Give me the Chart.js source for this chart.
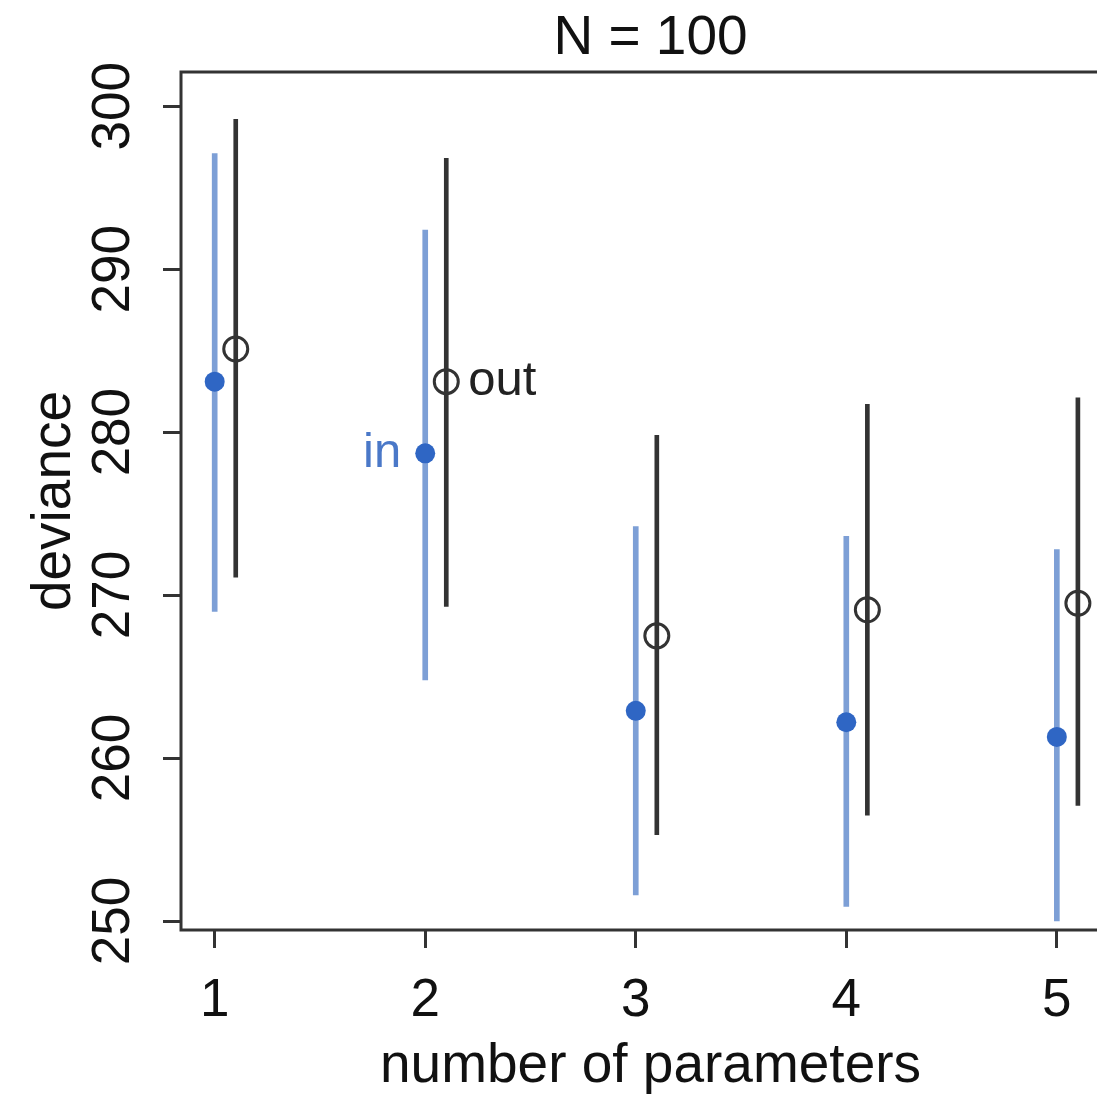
<!DOCTYPE html>
<html>
<head>
<meta charset="utf-8">
<script src="https://cdn.jsdelivr.net/npm/chart.js@4.4.1/dist/chart.umd.min.js"></script>
<style>
  html, body { margin: 0; overflow: hidden; background: #fff; }
  #wrap { width: 1140px; height: 1103px; }
</style>
</head>
<body>
<div id="wrap"><canvas id="devianceChart"></canvas></div>
<script>
// number of parameters (x) and deviance summaries
const params = [1, 2, 3, 4, 5];
const inMean = [283.1, 278.7, 262.9, 262.2, 261.3];
const inLow = [269.0, 264.8, 251.6, 250.9, 250.0];
const inHigh = [297.1, 292.4, 274.2, 273.6, 272.8];
const outMean = [285.1, 283.1, 267.5, 269.1, 269.5];
const outLow = [271.1, 269.3, 255.3, 256.5, 257.1];
const outHigh = [299.2, 296.8, 279.8, 281.7, 282.1];
const outShift = 0.1; // out-of-sample drawn a bit to the right
const xTicks = [1, 2, 3, 4, 5];
const yTicks = [250, 260, 270, 280, 290, 300];

const blueBar = '#7d9fd6';
const bluePoint = '#2f66c4';
const dark = '#333333';

Chart.defaults.font.family = '"Liberation Sans", Arial, sans-serif';
Chart.defaults.color = '#222';

// box around the plot region + the "in" / "out" text next to k = 2
const boxAndLabels = {
    id: 'boxAndLabels',
    beforeDatasetsDraw(chart) {
        const a = chart.chartArea;
        const ctx = chart.ctx;
        ctx.save();
        ctx.strokeStyle = dark;
        ctx.lineWidth = 3;
        ctx.strokeRect(a.left, a.top, a.right - a.left, a.bottom - a.top);
        ctx.restore();
    },
    afterDatasetsDraw(chart) {
        const x = chart.scales.x, y = chart.scales.y;
        const ctx = chart.ctx;
        ctx.save();
        ctx.font = '49px "Liberation Sans", Arial, sans-serif';
        ctx.textBaseline = 'middle';
        ctx.fillStyle = '#4a78c8';
        ctx.textAlign = 'right';
        ctx.fillText('in', x.getPixelForValue(params[1]) - 24, y.getPixelForValue(inMean[1]));
        ctx.fillStyle = '#222';
        ctx.textAlign = 'left';
        ctx.fillText('out', x.getPixelForValue(params[1] + outShift) + 22, y.getPixelForValue(outMean[1]));
        ctx.restore();
    }
};

const ctx = document.getElementById('devianceChart').getContext('2d');
const devianceChart = new Chart(ctx, {
    type: 'bar',
    data: {
        datasets: [
            {
                label: 'in range',
                data: params.map((p, i) => ({x: p, y: [inLow[i], inHigh[i]]})),
                backgroundColor: blueBar,
                barThickness: 5,
                grouped: false,
                order: 4
            },
            {
                type: 'scatter',
                label: 'in',
                data: params.map((p, i) => ({x: p, y: inMean[i]})),
                pointRadius: 10,
                pointBackgroundColor: bluePoint,
                pointBorderWidth: 0,
                order: 3
            },
            {
                label: 'out range',
                data: params.map((p, i) => ({x: p + outShift, y: [outLow[i], outHigh[i]]})),
                backgroundColor: dark,
                barThickness: 4,
                grouped: false,
                order: 2
            },
            {
                type: 'scatter',
                label: 'out',
                data: params.map((p, i) => ({x: p + outShift, y: outMean[i]})),
                pointRadius: 12,
                pointBackgroundColor: 'rgba(0,0,0,0)',
                pointBorderColor: dark,
                pointBorderWidth: 3,
                order: 1
            }
        ]
    },
    options: {
        responsive: true,
        maintainAspectRatio: false,
        animation: false,
        layout: { padding: { left: 0, right: 20, top: 0, bottom: 0 } },
        plugins: {
            legend: { display: false },
            tooltip: { enabled: false },
            title: {
                display: true,
                text: 'N = 100',
                fullSize: false,
                color: '#111',
                font: { size: 55, weight: 'normal', lineHeight: 1.2 },
                padding: { top: 6, bottom: 0 }
            }
        },
        scales: {
            x: {
                type: 'linear',
                min: 0.84,
                max: 5.3,
                offset: false,
                afterBuildTicks: s => { s.ticks = xTicks.map(v => ({value: v})); },
                afterFit: s => { s.height = 173; },
                grid: { display: true, offset: false, drawOnChartArea: false, drawTicks: true, tickLength: 18, lineWidth: 3, color: dark },
                border: { display: false },
                ticks: { font: { size: 53 }, padding: 22, maxRotation: 0, color: '#111' },
                title: {
                    display: true,
                    text: 'number of parameters',
                    color: '#111',
                    font: { size: 55 },
                    padding: { top: 0, bottom: 3 }
                }
            },
            y: {
                min: 249.45,
                max: 302.1,
                afterBuildTicks: s => { s.ticks = yTicks.map(v => ({value: v})); },
                afterFit: s => { s.width = 181; },
                grid: { display: true, drawOnChartArea: false, drawTicks: true, tickLength: 18, lineWidth: 3, color: dark },
                border: { display: false },
                ticks: { font: { size: 53 }, padding: 4, minRotation: 90, maxRotation: 90, crossAlign: 'center', color: '#111' },
                title: {
                    display: true,
                    text: 'deviance',
                    color: '#111',
                    font: { size: 55 },
                    padding: { top: 22, bottom: 0 }
                }
            }
        }
    },
    plugins: [boxAndLabels]
});
</script>
</body>
</html>
